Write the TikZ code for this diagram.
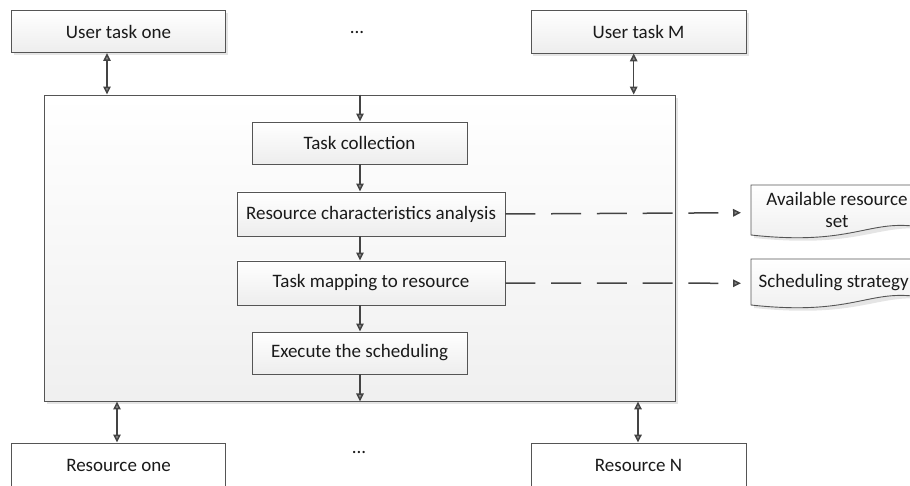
\documentclass[tikz,border=0pt]{standalone}
\usepackage{fontspec}
\setmainfont{Carlito}
\usetikzlibrary{arrows.meta,calc}
\definecolor{edge}{HTML}{555555}
\definecolor{linec}{HTML}{444444}
\definecolor{txt}{HTML}{1A1A1A}
\tikzset{
  box/.style={draw=edge, line width=0.9pt, top color=white, bottom color=black!7,
    font=\fontsize{19}{22}\selectfont, text=txt, align=center, inner sep=0pt},
  lbl/.style={font=\fontsize{19}{22}\selectfont, text=txt, align=center},
  tip/.style={-{Triangle[length=8pt,width=7.5pt,fill=black!45]}},
  dtip/.style={{Triangle[length=8pt,width=7.5pt,fill=black!45]}-{Triangle[length=8pt,width=7.5pt,fill=black!45]}},
  conn/.style={draw=linec, line width=1.5pt},
  shad/.style={fill=black!10},
}
\begin{document}
\begin{tikzpicture}[x=1pt,y=-1pt]
\useasboundingbox (0,0) rectangle (910,486);
\begin{scope}
\clip (0,0) rectangle (910,486);
% shadows
\fill[shad] (47,98) rectangle (678,404);
\foreach \a/\b/\c/\d in {14/13/228/55, 533/13/749/56, 255/125/470/167, 240/195/508/239, 240/264/508/308, 255/335/470/377}
  \fill[shad] (\a,\b) rectangle (\c,\d);
% big container
\node[draw=edge, line width=0.9pt, top color=white, bottom color=black!6, minimum width=631pt, minimum height=306pt, inner sep=0pt] (big) at (359.5,248) {};
% top user tasks
\node[box, minimum width=214pt, minimum height=42pt] (ut1) at (118.5,31.5) {User task one};
\node[box, minimum width=215pt, minimum height=43pt] (utM) at (638.5,31.5) {User task M};
\node[lbl] (dots1) at (357,33) {...};
% bottom resources
\node[box, minimum width=214pt, minimum height=44pt, top color=white, bottom color=white] (r1) at (118.5,465) {Resource one};
\node[box, minimum width=215pt, minimum height=44pt, top color=white, bottom color=white] (rN) at (638.5,465) {Resource N};
\node[lbl] (dots2) at (359,452) {...};
% inner steps
\node[box, minimum width=215pt, minimum height=42pt] (tc) at (359.5,143) {Task collection};
\node[box, minimum width=268pt, minimum height=44pt] (rca) at (371,214) {Resource characteristics analysis};
\node[box, minimum width=268pt, minimum height=44pt] (tm) at (371,283) {Task mapping to resource};
\node[box, minimum width=215pt, minimum height=42pt] (ex) at (359.5,353) {Execute the scheduling};
% documents
\fill[shad] (754,188) -- (940,188) -- (940,232) .. controls (880,218) and (870,250) .. (754,238) -- cycle;
\path[draw=edge, line width=0.9pt, top color=white, bottom color=black!7] (751,185) -- (930,185) -- (930,229) .. controls (870,215) and (860,247) .. (751,235) -- cycle;
\node[lbl] (doc1) at (837,210) {Available resource\\set};
\fill[shad] (754,262) -- (940,262) -- (940,302) .. controls (880,288) and (870,320) .. (754,308) -- cycle;
\path[draw=edge, line width=0.9pt, top color=white, bottom color=black!7] (751,259) -- (930,259) -- (930,299) .. controls (870,285) and (860,317) .. (751,305) -- cycle;
\node[lbl, anchor=west, inner sep=0pt] (doc2) at (758.5,283) {Scheduling strategy};
\coordinate (d1) at (751,212.7);
\coordinate (d2) at (751,283.3);
% connectors
\coordinate (a1) at (107,0);
\coordinate (a2) at (633.7,0);
\coordinate (a3) at (117,0);
\coordinate (a4) at (638,0);
\coordinate (ac) at (360,0);
\draw[conn, dtip] (ut1.south -| a1) -- (big.north -| a1);
\draw[conn, dtip] (utM.south -| a2) -- (big.north -| a2);
\draw[conn, dtip] (big.south -| a3) -- (r1.north -| a3);
\draw[conn, dtip] (big.south -| a4) -- (rN.north -| a4);
\draw[conn, tip] (big.north -| ac) -- (tc.north -| ac);
\draw[conn, tip] (tc.south -| ac) -- (rca.north -| ac);
\draw[conn, tip] (rca.south -| ac) -- (tm.north -| ac);
\draw[conn, tip] (tm.south -| ac) -- (ex.north -| ac);
\draw[conn, tip] (ex.south -| ac) -- (big.south -| ac);
\draw[conn, tip, dash pattern=on 30pt off 15.7pt, shorten >=10pt] (rca.east) -- (d1);
\draw[conn, tip, dash pattern=on 30pt off 15.7pt, shorten >=10pt] (tm.east) -- (d2);
\end{scope}
\end{tikzpicture}
\end{document}
